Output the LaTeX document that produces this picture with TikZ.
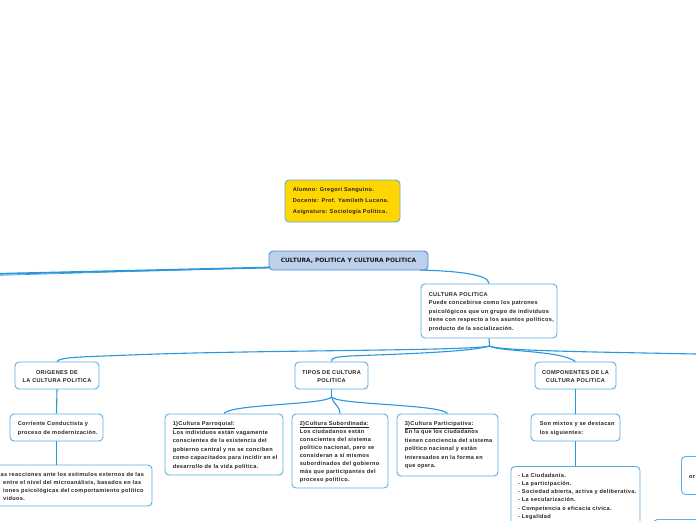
\documentclass[tikz,border=0pt]{standalone}
\usepackage{fontspec}
\setmainfont{Liberation Sans}
\newfontfamily\bodyfont[LetterSpace=6]{Liberation Sans}
\newfontfamily\titlefont{DejaVu Sans}
\begin{document}
\begin{tikzpicture}[x=1pt,y=-1pt,
  box/.style={draw=bordc, line width=0.9pt, rounded corners=4pt, fill=white, inner sep=0pt},
  txt/.style={font=\bodyfont\fontsize{5.6}{8.5}\selectfont\bfseries, inner sep=0pt, align=left, text=black!85},
  ctxt/.style={font=\bodyfont\fontsize{5.6}{8.5}\selectfont\bfseries, inner sep=0pt, align=center, text=black!85},
  conn/.style={draw=connc, line width=1.1pt}]
\definecolor{bordc}{HTML}{5AAFE8}
\definecolor{connc}{HTML}{2A96DE}
\definecolor{mainfill}{HTML}{BCD0EC}
\definecolor{mainbord}{HTML}{4C8ED8}
\definecolor{gold}{HTML}{FFD600}
\useasboundingbox (0,0) rectangle (696,520);
\clip (0,0) rectangle (696,520);

% ---------- boxes ----------
\node[box, fill=gold, minimum width=115pt, minimum height=42pt] (alum) at (342.5,201) {};
\node[txt, anchor=west, font=\bodyfont\fontsize{5.6}{11}\selectfont\bfseries] (alumT) at ([xshift=8pt]alum.west) {Alumno: Gregori Sanguino.\\Docente: Prof. Yamileth Lucena.\\Asignatura: Sociología Política.};

\node[box, draw=mainbord, fill=mainfill, minimum width=159pt, minimum height=19pt] (main) at (348.5,260.5) {};
\node[ctxt, font=\titlefont\fontsize{5.9}{8}\selectfont\bfseries, text=black!90] (mainT) at (main.center) {CULTURA, POLITICA Y CULTURA POLITICA};

\node[box, minimum width=136pt, minimum height=54pt] (cp) at (489,311) {};
\node[txt, anchor=west] (cpT) at ([xshift=8pt,yshift=-1pt]cp.west) {CULTURA POLITICA\\Puede concebirse como los patrones\\psicológicos que un grupo de individuos\\tiene con respecto a los asuntos políticos,\\producto de la socialización.};

\node[box, minimum width=84pt, minimum height=27pt] (orig) at (57,375.5) {};
\node[ctxt] (origT) at ([yshift=-1pt]orig.center) {ORIGENES DE\\LA CULTURA POLITICA};

\node[box, minimum width=93pt, minimum height=27pt] (corr) at (56.5,427.5) {};
\node[txt, anchor=west] (corrT) at ([xshift=8pt,yshift=-1pt]corr.west) {Corriente Conductista y\\proceso de modernización.};

\node[box, minimum width=157pt, minimum height=41pt] (bl) at (73.5,485.5) {};
\node[txt, anchor=west, font=\bodyfont\fontsize{5.6}{7.8}\selectfont\bfseries] (blT) at (0.5,486.5) {as reacciones ante los estimulos externos de las\\\hspace{2.5pt}entre el nivel del microanálisis, basados en las\\\hspace{2.5pt}iones psicológicas del comportamiento político\\\hspace{2.5pt}viduos.};

\node[box, minimum width=73pt, minimum height=27pt] (tipos) at (331.5,375.5) {};
\node[ctxt] (tiposT) at ([yshift=-1pt]tipos.center) {TIPOS DE CULTURA\\POLITICA};

\node[box, minimum width=118pt, minimum height=61pt] (parr) at (224,444.5) {};
\node[txt, anchor=west] (parrT) at ([xshift=8pt,yshift=-1pt]parr.west) {\underline{1)Cultura Parroquial:}\\Los individuos están vagamente\\conscientes de la existencia del\\gobierno central y no se conciben\\como capacitados para incidir en el\\desarrollo de la vida política.};

\node[box, minimum width=96pt, minimum height=74pt] (sub) at (340,451) {};
\node[txt, anchor=west, font=\bodyfont\fontsize{5.6}{8.1}\selectfont\bfseries] (subT) at ([xshift=8pt,yshift=-1pt]sub.west) {\underline{2)Cultura Subordinada:}\\Los ciudadanos están\\conscientes del sistema\\político nacional, pero se\\consideran a sí mismos\\subordinados del gobierno\\más que participantes del\\proceso político.};

\node[box, minimum width=101pt, minimum height=62pt] (part) at (447.5,445) {};
\node[txt, anchor=west] (partT) at ([xshift=8pt]part.west) {\underline{3)Cultura Participativa:}\\En la que los ciudadanos\\tienen conciencia del sistema\\político nacional y están\\interesados en la forma en\\que opera.};

\node[box, minimum width=81pt, minimum height=27pt] (comp) at (575.5,375.5) {};
\node[ctxt] (compT) at ([yshift=-1pt]comp.center) {COMPONENTES DE LA\\CULTURA POLITICA};

\node[box, minimum width=89pt, minimum height=27pt] (son) at (575.5,427.5) {};
\node[txt, anchor=west] (sonT) at ([xshift=9pt,yshift=-1pt]son.west) {Son mixtos y se destacan\\los siguientes:};

\node[box, minimum width=129pt, minimum height=80pt, anchor=north] (list) at (575.5,466) {};
\node[txt, anchor=north west, font=\bodyfont\fontsize{5.6}{8.2}\selectfont\bfseries] (listT) at (518,473) {- La Ciudadanía.\\- La participación.\\- Sociedad abierta, activa y deliberativa.\\- La secularización.\\- Competencia o eficacia cívica.\\- Legalidad};

\node[box, minimum width=80pt, minimum height=38pt, anchor=north west] (rbox) at (681,456) {};
\node[txt, anchor=west] (rboxT) at (689,477) {or};

\node[box, minimum width=80pt, minimum height=40pt, anchor=north west] (brbox) at (653,519) {};

% ---------- connectors ----------
\coordinate (mw) at (270,267.5);
\draw[conn, line width=1.8pt] (mw) -- (0,273.8) coordinate (lo1);
\draw[conn, line width=0.6pt] (mw) -- (0,275.3) coordinate (lo2);
\draw[conn] (420,270) .. controls (455,271) and (489,274) .. (cp.north);

\coordinate (hub) at (489.5,346);
\draw[conn] (cp.south) -- (hub);
\draw[conn] (hub) .. controls (470,351) and (250,350) .. (130,355) .. controls (80,357) and (60,357) .. (orig.north);
\draw[conn] (hub) .. controls (470,352) and (400,354) .. (350,356) .. controls (335,357) and (331,358) .. (tipos.north);
\draw[conn] (hub) .. controls (500,352) and (560,350) .. (comp.north);
\draw[conn] (hub) .. controls (500,351) and (600,352) .. (696,354) coordinate (ro);

\draw[conn] (orig.south) -- (corr.north);
\draw[conn] (corr.south) -- (bl.north -| corr.south);

\coordinate (thub) at (331.5,397);
\draw[conn] (tipos.south) -- (thub);
\draw[conn] (thub) .. controls (325,405) and (230,404) .. (parr.north);
\draw[conn] (thub) .. controls (333,404) and (340,406) .. (sub.north);
\draw[conn] (thub) .. controls (338,405) and (440,404) .. (part.north);

\draw[conn] (comp.south) -- (son.north);
\draw[conn] (son.south) -- (list.north);
\end{tikzpicture}
\end{document}
